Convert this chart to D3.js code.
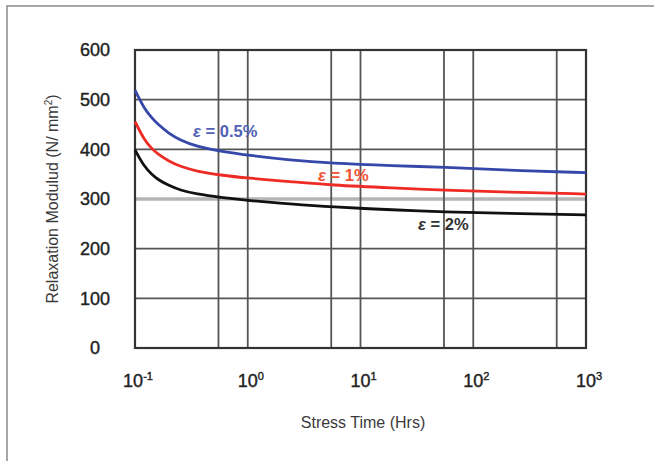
<!DOCTYPE html>
<html>
<head>
<meta charset="utf-8">
<script src="https://cdn.jsdelivr.net/npm/d3@7"></script>
<style>
  body { margin: 0; background: #fff; }
  svg { display: block; font-family: "Liberation Sans", Arial, sans-serif; }
</style>
</head>
<body>
<div id="chart"></div>
<script>
const times = [0.1, 0.12, 0.14, 0.16, 0.2, 0.25, 0.35, 0.57, 1, 2.4, 5.4, 20, 54, 200, 1000];
// relaxation modulus (N/mm2) per strain level
const strain05 = [519, 483, 464, 450, 432, 419, 406, 396, 388, 378, 372, 367, 364, 358, 353];
const strain1  = [456, 420, 402, 390, 376, 366, 356, 348, 342, 335, 328, 322, 318, 314, 310];
const strain2  = [399, 366, 350, 339, 327, 318, 310, 303, 297, 290, 284, 278, 274, 271, 268];

const yTicks = [0, 100, 200, 300, 400, 500, 600];
const xDecades = [0.1, 1, 10, 100, 1000];
const xExponents = ["-1", "0", "1", "2", "3"];
const xMinorGrid = [0.55, 5.5, 55, 550];

const svgWidth = 654;
const svgHeight = 461;
const plot = { left: 135, right: 586, top: 50, bottom: 348 };

const svg = d3.select("#chart")
  .append("svg")
  .attr("width", svgWidth)
  .attr("height", svgHeight);

// outer frame (only top and left edges show)
svg.append("path")
  .attr("d", `M7,${svgHeight + 5} L7,6 L${svgWidth + 5},6`)
  .attr("fill", "none")
  .attr("stroke", "#8a8a8a")
  .attr("stroke-width", 1.5);

const x = d3.scaleLog([0.1, 1000], [plot.left, plot.right]);
const y = d3.scaleLinear([0, 600], [plot.bottom, plot.top]);

// horizontal grid
svg.append("g")
  .selectAll("line")
  .data(yTicks.filter(d => d > 0 && d < 600))
  .enter()
  .append("line")
  .attr("x1", plot.left)
  .attr("x2", plot.right)
  .attr("y1", d => y(d))
  .attr("y2", d => y(d))
  .attr("stroke", d => d === 300 ? "#b5b5b5" : "#555")
  .attr("stroke-width", d => d === 300 ? 3.5 : 1.6);

// vertical grid
svg.append("g")
  .selectAll("line")
  .data(xDecades.slice(1, -1).concat(xMinorGrid))
  .enter()
  .append("line")
  .attr("x1", d => x(d))
  .attr("x2", d => x(d))
  .attr("y1", plot.top)
  .attr("y2", plot.bottom)
  .attr("stroke", "#555")
  .attr("stroke-width", 1.8);

// plot frame
svg.append("rect")
  .attr("x", plot.left)
  .attr("y", plot.top)
  .attr("width", plot.right - plot.left)
  .attr("height", plot.bottom - plot.top)
  .attr("fill", "none")
  .attr("stroke", "#333")
  .attr("stroke-width", 2.2);

// curves
const line = d3.line()
  .x((d, i) => x(times[i]))
  .y(d => y(d))
  .curve(d3.curveBasis);

const series = [
  { values: strain2, color: "#111111" },
  { values: strain1, color: "#ee2b24" },
  { values: strain05, color: "#3647aa" }
];

svg.append("g")
  .selectAll("path")
  .data(series)
  .enter()
  .append("path")
  .attr("d", d => line(d.values))
  .attr("fill", "none")
  .attr("stroke", d => d.color)
  .attr("stroke-width", 2.8);

// curve labels
const labels = [
  { pct: "0.5%", x: 193, y: 137, color: "#5161b6" },
  { pct: "1%", x: 318, y: 181, color: "#ef5234" },
  { pct: "2%", x: 418, y: 230, color: "#333333" }
];
const lab = svg.append("g")
  .selectAll("text")
  .data(labels)
  .enter()
  .append("text")
  .attr("x", d => d.x)
  .attr("y", d => d.y)
  .style("font-size", "16.5px")
  .style("font-weight", "bold")
  .style("fill", d => d.color);
lab.append("tspan").style("font-style", "italic").text("ε");
lab.append("tspan").text(d => " = " + d.pct);

// y tick labels
svg.append("g")
  .selectAll("text")
  .data(yTicks)
  .enter()
  .append("text")
  .attr("x", 95)
  .attr("y", d => y(d))
  .attr("dy", "0.36em")
  .attr("text-anchor", "middle")
  .style("font-size", "18px")
  .style("fill", "#222")
  .style("stroke", "#222")
  .style("stroke-width", 0.4)
  .text(d => d);

// x tick labels with superscript exponents
const xl = svg.append("g")
  .selectAll("text")
  .data(xDecades)
  .enter()
  .append("text")
  .attr("x", (d, i) => x(d) + 3)
  .attr("y", 387)
  .attr("text-anchor", "middle")
  .style("font-size", "18px")
  .style("fill", "#222")
  .style("stroke", "#222")
  .style("stroke-width", 0.4);
xl.append("tspan").text("10");
xl.append("tspan")
  .attr("dy", -7)
  .style("font-size", "11px")
  .text((d, i) => xExponents[i]);

// axis titles
svg.append("text")
  .attr("x", 363)
  .attr("y", 428)
  .attr("text-anchor", "middle")
  .style("font-size", "16px")
  .style("fill", "#3a3a3a")
  .text("Stress Time (Hrs)");

const yt = svg.append("text")
  .attr("transform", "translate(58,199) rotate(-90)")
  .attr("text-anchor", "middle")
  .style("font-size", "16px")
  .style("fill", "#3a3a3a");
yt.append("tspan").text("Relaxation Modulud (N/ mm");
yt.append("tspan").attr("dy", -6).style("font-size", "10px").text("2");
yt.append("tspan").attr("dy", 6).text(")");
</script>
</body>
</html>
